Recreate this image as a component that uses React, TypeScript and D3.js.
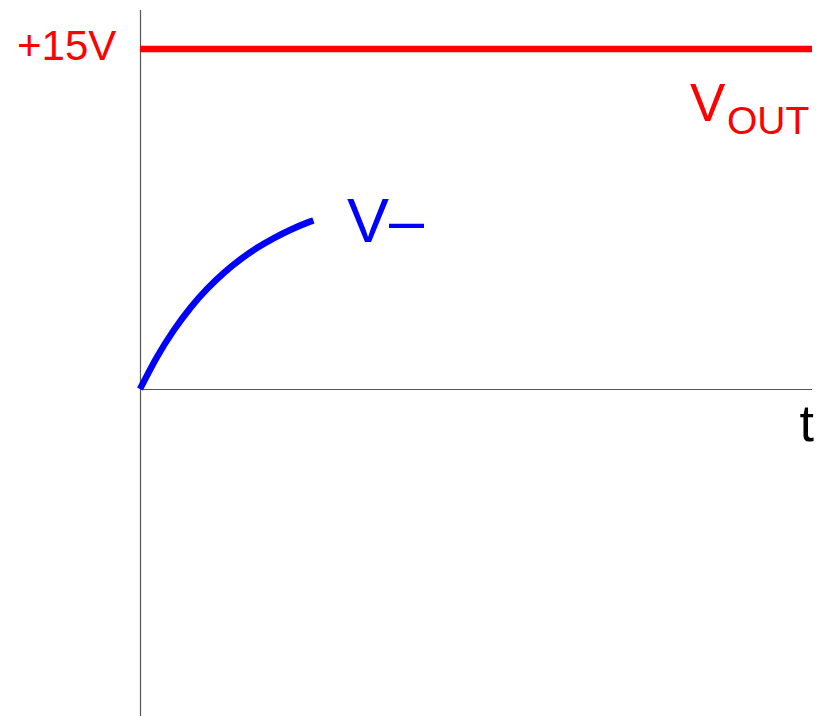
import React from "react";
import * as d3 from "d3";

const W = 827;
const H = 716;

// time axis domain (arbitrary units) and voltage domain
const tDomain = [0, 10];
const vDomain = [0, 15];

// V_OUT saturated at +15V
const voutT = [0, 10];
const voutV = [15, 15];

// V- charging curve
const vMinusT = [0, 0.25, 0.5, 0.75, 1.0, 1.25, 1.5, 1.75, 2.0, 2.25, 2.5, 2.58];
const vMinusV = [0, 1.4, 2.58, 3.58, 4.42, 5.13, 5.73, 6.24, 6.67, 7.04, 7.35, 7.44];

const labels = { rail: "+15V", vout: "V", voutSub: "OUT", vminus: "V\u2013", t: "t" };

export default function App() {
  const x = d3.scaleLinear().domain(tDomain).range([140, 812]);
  const y = d3.scaleLinear().domain(vDomain).range([389, 49]);

  const line = d3
    .line<[number, number]>()
    .x((d) => x(d[0]))
    .y((d) => y(d[1]))
    .curve(d3.curveMonotoneX);

  const voutPts = voutT.map((t, i) => [t, voutV[i]] as [number, number]);
  const vmPts = vMinusT.map((t, i) => [t, vMinusV[i]] as [number, number]);

  const font = "'Liberation Sans', Arial, sans-serif";

  return (
    <svg
      width={W}
      height={H}
      style={{ position: "absolute", left: 0, top: 0, background: "#fff" }}
      fontFamily={font}
    >
      {/* axes */}
      <line x1={140.5} y1={10} x2={140.5} y2={H} stroke="#555" strokeWidth={1.2} />
      <line x1={140} y1={389.5} x2={812} y2={389.5} stroke="#555" strokeWidth={1.2} />

      {/* V_OUT */}
      <path d={line(voutPts) || ""} fill="none" stroke="#ff0000" strokeWidth={6.5} />
      {/* V- */}
      <path
        d={line(vmPts) || ""}
        fill="none"
        stroke="#0000ff"
        strokeWidth={6.5}
        strokeLinecap="butt"
      />

      <text x={17} y={60} fontSize={42} fill="#ff0000">
        {labels.rail}
      </text>
      <text x={690} y={121} fontSize={53} fill="#ff0000">
        {labels.vout}
      </text>
      <text x={727} y={134} fontSize={39} fill="#ff0000">
        {labels.voutSub}
      </text>
      <text x={347} y={242} fontSize={63} fill="#0000ff">
        {labels.vminus}
      </text>
      <text x={814} y={441} fontSize={52} fill="#000" textAnchor="end">
        {labels.t}
      </text>
    </svg>
  );
}
